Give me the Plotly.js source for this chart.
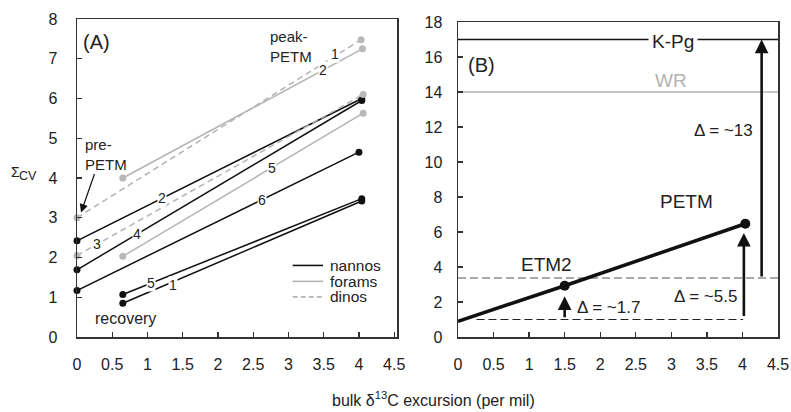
<!DOCTYPE html>
<html><head><meta charset="utf-8">
<script src="https://cdn.plot.ly/plotly-3.0.1.min.js"></script>
<style>html,body{margin:0;padding:0;background:#fff;}#chart{width:791px;height:412px;}</style>
</head><body><div id="chart"></div>
<script>
// ---------- Panel A data ----------
const legendNames = ['nannos', 'forams', 'dinos'];
const nannoX0 = [0, 0, 0, 0.65, 0.65];
const nannoY0 = [2.42, 1.69, 1.17, 1.07, 0.85];
const nannoX1 = [4.04, 4.04, 4.0, 4.04, 4.04];
const nannoY1 = [6.0, 5.95, 4.65, 3.48, 3.42];
const nannoLabels = ['2', '4', '6', '5', '1'];
const foramX0 = [0.65, 0.65];
const foramY0 = [4.0, 2.03];
const foramX1 = [4.05, 4.06];
const foramY1 = [7.25, 5.63];
const foramLabels = ['2', '5'];
const dinoX0 = [0, 0];
const dinoY0 = [3.0, 2.05];
const dinoX1 = [4.03, 4.06];
const dinoY1 = [7.48, 6.1];
const dinoLabels = ['1', '3'];
const xTicks = [0, 0.5, 1, 1.5, 2, 2.5, 3, 3.5, 4, 4.5];
const xTickText = ['0', '0.5', '1', '1.5', '2', '2.5', '3', '3.5', '4', '4.5'];
const yTicksA = [0, 1, 2, 3, 4, 5, 6, 7, 8];
const yTicksB = [0, 2, 4, 6, 8, 10, 12, 14, 16, 18];
const prePetmArrowX = [0.255, 0.057];
const prePetmArrowY = [4.14, 3.13];

// ---------- Panel B data ----------
const bX = [0, 1.5, 4.04];
const bY = [0.9, 2.93, 6.47];
const eventNames = ['', 'ETM2', 'PETM'];
const kpgLevel = 17;
const wrLevel = 14;
const baseLevel = 1.0;
const baseX = [0.26, 4.01];
const upperLevel = 3.37;
const deltaLabels = ['Δ = ~1.7', 'Δ = ~5.5', 'Δ = ~13'];
const deltaX = [1.5, 4.02, 4.27];
const deltaFrom = [1.05, 1.12, 3.37];
const deltaTo = [2.33, 5.95, 17];

// ---------- styles ----------
const FONT = 'Liberation Sans, Arial, Helvetica, sans-serif';
const BLACK = '#111111';
const GREY = '#b3b3b3';
const GREYM = '#b8b8b8';
const DINODASH = '6px,4px';

const traces = [];
function addGroup(x0, y0, x1, y1, color, mcolor, dash) {
  for (let i = 0; i < x0.length; i++) {
    traces.push({
      type: 'scatter', mode: 'lines+markers', xaxis: 'x', yaxis: 'y',
      x: [x0[i], x1[i]], y: [y0[i], y1[i]],
      line: {color: color, width: 1.5, dash: dash},
      marker: {color: mcolor, size: 7},
      cliponaxis: false, showlegend: false, hoverinfo: 'skip'
    });
  }
}
addGroup(nannoX0, nannoY0, nannoX1, nannoY1, BLACK, BLACK, 'solid');
addGroup(foramX0, foramY0, foramX1, foramY1, GREY, GREYM, 'solid');
addGroup(dinoX0, dinoY0, dinoX1, dinoY1, GREY, GREYM, DINODASH);

// Panel B traces
traces.push({type: 'scatter', mode: 'lines', xaxis: 'x2', yaxis: 'y2',
  x: [0, 4.5], y: [kpgLevel, kpgLevel], line: {color: BLACK, width: 1.6}, showlegend: false, hoverinfo: 'skip'});
traces.push({type: 'scatter', mode: 'lines', xaxis: 'x2', yaxis: 'y2',
  x: [0, 4.5], y: [wrLevel, wrLevel], line: {color: GREY, width: 1.6}, showlegend: false, hoverinfo: 'skip'});
traces.push({type: 'scatter', mode: 'lines', xaxis: 'x2', yaxis: 'y2',
  x: baseX, y: [baseLevel, baseLevel], line: {color: '#222', width: 1.2, dash: '8px,4px'}, showlegend: false, hoverinfo: 'skip'});
traces.push({type: 'scatter', mode: 'lines', xaxis: 'x2', yaxis: 'y2',
  x: [0, 4.5], y: [upperLevel, upperLevel], line: {color: '#555', width: 1.2, dash: '8px,4px'}, showlegend: false, hoverinfo: 'skip'});
traces.push({type: 'scatter', mode: 'lines', xaxis: 'x2', yaxis: 'y2',
  x: bX, y: bY, line: {color: BLACK, width: 3.5}, showlegend: false, hoverinfo: 'skip'});
traces.push({type: 'scatter', mode: 'markers', xaxis: 'x2', yaxis: 'y2',
  x: bX.slice(1), y: bY.slice(1), marker: {color: BLACK, size: 10}, showlegend: false, hoverinfo: 'skip'});

// ---------- annotations ----------
const ann = [];
function lineLabels(x0, y0, x1, y1, labels, ts, shifts) {
  for (let i = 0; i < labels.length; i++) {
    const t = ts[i];
    ann.push({xref: 'x', yref: 'y', x: x0[i] + t * (x1[i] - x0[i]), y: y0[i] + t * (y1[i] - y0[i]),
      text: labels[i], showarrow: false, bgcolor: '#fff', borderpad: 0, yshift: shifts[i],
      font: {family: FONT, size: 14, color: '#222'}});
  }
}
lineLabels(nannoX0, nannoY0, nannoX1, nannoY1, nannoLabels, [0.30, 0.21, 0.655, 0.12, 0.21], [0, 0, 0, 0, -3]);
lineLabels(foramX0, foramY0, foramX1, foramY1, foramLabels, [0.835, 0.62], [0, 0]);
lineLabels(dinoX0, dinoY0, dinoX1, dinoY1, dinoLabels, [0.91, 0.07], [2, 0]);

const txt = (xref, yref, x, y, text, size, extra) => Object.assign({xref: xref, yref: yref, x: x, y: y, text: text,
  showarrow: false, font: {family: FONT, size: size, color: '#222'}}, extra || {});

ann.push(txt('x', 'y', 0.28, 7.41, '(A)', 20));
ann.push(txt('x', 'y', 2.71, 7.30, 'peak-<br>PETM', 15, {xanchor: 'left', align: 'left'}));
ann.push(txt('x', 'y', 0.085, 4.59, 'pre-<br>PETM', 15, {xanchor: 'left', align: 'left'}));
ann.push(txt('x', 'y', 0.23, 0.46, 'recovery', 16, {xanchor: 'left'}));
// pre-PETM pointer arrow
ann.push({xref: 'x', yref: 'y', axref: 'x', ayref: 'y',
  x: prePetmArrowX[1], y: prePetmArrowY[1], ax: prePetmArrowX[0], ay: prePetmArrowY[0],
  text: '', showarrow: true, arrowhead: 2, arrowsize: 1.4, arrowwidth: 1.2, arrowcolor: BLACK});

// manual legend (panel A)
const legColors = [BLACK, GREY, GREY];
const legDash = ['solid', 'solid', '5px,3px'];
const legY = [1.80, 1.40, 1.01];
const shapes = [];
for (let i = 0; i < legendNames.length; i++) {
  shapes.push({type: 'line', xref: 'x', yref: 'y', x0: 3.06, x1: 3.49, y0: legY[i], y1: legY[i],
    line: {color: legColors[i], width: 1.6, dash: legDash[i]}});
  ann.push(txt('x', 'y', 3.58, legY[i], legendNames[i], 15.5, {xanchor: 'left', borderpad: 0}));
}

// Σcv axis label
ann.push(txt('paper', 'paper', 21 / 791, (412 - 172) / 412, 'Σ', 14, {xanchor: 'right', borderpad: 0}));
ann.push(txt('paper', 'paper', 18 / 791, (412 - 176) / 412, 'CV', 12.5, {xanchor: 'left', borderpad: 0}));

// Panel B text
ann.push(txt('x2', 'y2', 0.33, 15.56, '(B)', 20));
ann.push(txt('x2', 'y2', 3.02, kpgLevel, 'K-Pg', 19, {bgcolor: '#fff', borderpad: 3, yshift: -2}));
ann.push(txt('x2', 'y2', 3.0, 14.67, 'WR', 19, {font: {family: FONT, size: 19, color: GREY}}));
ann.push(txt('x2', 'y2', 3.22, 7.75, eventNames[2], 19));
ann.push(txt('x2', 'y2', 1.24, 4.15, eventNames[1], 19));
ann.push(txt('x2', 'y2', 1.64, 1.71, deltaLabels[0], 17, {xanchor: 'left'}));
ann.push(txt('x2', 'y2', 3.95, 2.29, deltaLabels[1], 17, {xanchor: 'right'}));
ann.push(txt('x2', 'y2', 4.17, 11.79, deltaLabels[2], 17, {xanchor: 'right'}));
for (let i = 0; i < deltaX.length; i++) {
  ann.push({xref: 'x2', yref: 'y2', axref: 'x2', ayref: 'y2', x: deltaX[i], y: deltaTo[i], ax: deltaX[i], ay: deltaFrom[i],
    text: '', showarrow: true, arrowhead: 2, arrowsize: 1.05, arrowwidth: 2.6, arrowcolor: BLACK});
}

// shared x title
ann.push(txt('paper', 'paper', 433 / 791, (412 - 403) / 412, 'bulk δ<sup>13</sup>C excursion (per mil)', 16, {yshift: -8}));

const axisBase = {
  showline: true, linecolor: '#333', linewidth: 1.5, mirror: true,
  ticks: 'inside', ticklen: 5, tickwidth: 1.3, tickcolor: '#333',
  showgrid: false, zeroline: false, fixedrange: true,
  tickfont: {family: FONT, size: 16, color: '#222'}
};

const layout = {
  width: 791, height: 412,
  margin: {l: 0, r: 0, t: 0, b: 0},
  paper_bgcolor: '#fff', plot_bgcolor: '#fff',
  showlegend: false,
  xaxis: Object.assign({}, axisBase, {domain: [77 / 791, 397 / 791], range: [0, 4.54],
    tickmode: 'array', tickvals: xTicks, ticktext: xTickText, ticklabelstandoff: 12, anchor: 'y'}),
  yaxis: Object.assign({}, axisBase, {domain: [75 / 412, 393 / 412], range: [0, 8],
    tickmode: 'array', tickvals: yTicksA, ticklabelstandoff: 15, anchor: 'x'}),
  xaxis2: Object.assign({}, axisBase, {domain: [458 / 791, 778 / 791], range: [0, 4.5],
    tickmode: 'array', tickvals: xTicks, ticktext: xTickText, ticklabelstandoff: 12, anchor: 'y2'}),
  yaxis2: Object.assign({}, axisBase, {domain: [75 / 412, 390 / 412], range: [0, 18],
    tickmode: 'array', tickvals: yTicksB, ticklabelstandoff: 11, anchor: 'x2'}),
  annotations: ann,
  shapes: shapes
};

Plotly.newPlot('chart', traces, layout, {displayModeBar: false, staticPlot: true});
</script>
</body></html>
